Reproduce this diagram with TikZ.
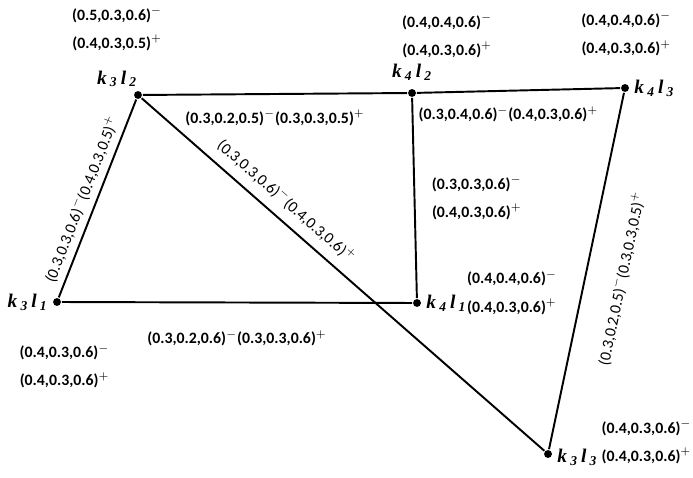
\documentclass[tikz,border=0pt]{standalone}
\usepackage{fontspec}
\setmainfont{Carlito}
\newfontfamily\namefont{Liberation Serif}
\usetikzlibrary{positioning}
\newcommand{\kl}[2]{{\namefont\bfseries\itshape k\,\textsubscript{#1}\,l\,\textsubscript{#2}}}
\newcommand{\negv}[1]{(#1)$^{-}$}
\newcommand{\posv}[1]{(#1)$^{+}$}
\begin{document}
\begin{tikzpicture}[x=0.02cm, y=0.02cm, line width=1.1pt,
    dot/.style={circle, fill, inner sep=0pt, minimum size=4.5pt},
    vname/.style={font=\fontsize{11}{13}\selectfont, inner sep=1pt},
    val/.style={font=\fontsize{9}{16}\selectfont\bfseries, align=center},
    edgeval/.style={font=\fontsize{9}{11}\selectfont\bfseries},
    slant/.style={font=\fontsize{9}{11}\selectfont, sloped}]
    \useasboundingbox (0,0) rectangle (693,477);
    % Vertices
    \node[dot] (k3l2) at (138,382) {};
    \node[dot] (k4l2) at (412,384) {};
    \node[dot] (k4l3) at (625,389) {};
    \node[dot] (k3l1) at (57,175) {};
    \node[dot] (k4l1) at (417,174) {};
    \node[dot] (k3l3) at (548,23) {};

    % Vertex names
    \node[vname, above left=1pt and -3pt of k3l2] (n32) {\kl{3}{2}};
    \node[vname, above=3pt of k4l2] (n42) {\kl{4}{2}};
    \node[vname, right=1pt of k4l3] (n43) {\kl{4}{3}};
    \node[vname, left=1pt of k3l1] (n31) {\kl{3}{1}};
    \node[vname, right=1pt of k4l1] (n41) {\kl{4}{1}};
    \node[vname, right=1pt of k3l3, yshift=-2pt] (n33) {\kl{3}{3}};

    % Vertex values
    \node[val, above=6pt of n32] (v32) {\negv{0.5,0.3,0.6}\\\posv{0.4,0.3,0.5}};
    \node[val, above=-2pt of n42, xshift=20pt] (v42) {\negv{0.4,0.4,0.6}\\\posv{0.4,0.3,0.6}};
    \node[val, above=8pt of n43, xshift=-16pt] (v43) {\negv{0.4,0.4,0.6}\\\posv{0.4,0.3,0.6}};
    \node[val, below=14pt of n31, xshift=21pt] (v31) {\negv{0.4,0.3,0.6}\\\posv{0.4,0.3,0.6}};
    \node[val, align=left, right=-5pt of n41, yshift=6pt] (v41) {\negv{0.4,0.4,0.6}\\\posv{0.4,0.3,0.6}};
    \node[val, align=left, right=-3pt of n33, yshift=9pt] (v33) {\negv{0.4,0.3,0.6}\\\posv{0.4,0.3,0.6}};

    % Edges
    \draw (k3l2) -- node[edgeval, below=5pt] {\negv{0.3,0.2,0.5}\posv{0.3,0.3,0.5}} (k4l2);
    \draw (k4l2) -- node[edgeval, below=5pt, pos=0.45] {\negv{0.3,0.4,0.6}\posv{0.4,0.3,0.6}} (k4l3);
    \draw (k3l1) -- node[edgeval, below=12pt] {\negv{0.3,0.2,0.6}\posv{0.3,0.3,0.6}} (k4l1);
    \draw (k4l2) -- node[val, right=6pt] {\negv{0.3,0.3,0.6}\\\posv{0.4,0.3,0.6}} (k4l1);
    \draw (k3l1) -- node[slant, above, pos=0.47] {\negv{0.3,0.3,0.6}\posv{0.4,0.3,0.5}} (k3l2);
    \draw (k3l2) -- node[slant, above=2pt, pos=0.33] {\negv{0.3,0.3,0.6}\posv{0.4,0.3,0.6}} (k3l3);
    \draw (k3l3) -- node[slant, below=12pt] {\negv{0.3,0.2,0.5}\posv{0.3,0.3,0.5}} (k4l3);
\end{tikzpicture}
\end{document}
